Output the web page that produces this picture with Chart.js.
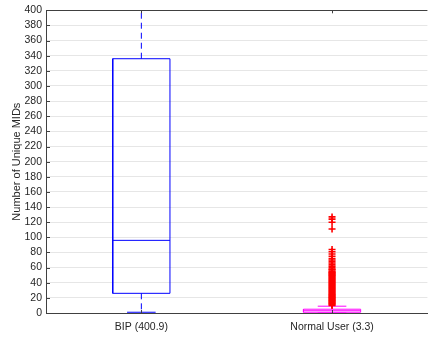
<!DOCTYPE html>
<html>
<head>
<meta charset="utf-8">
<script src="https://cdn.jsdelivr.net/npm/chart.js@4/dist/chart.umd.min.js"></script>
<style>
html, body { margin: 0; padding: 0; overflow: hidden; background: #fff; }
</style>
</head>
<body>
<canvas id="c" width="433" height="337"></canvas>
<script>
const groups = ['BIP (400.9)', 'Normal User (3.3)'];
const whiskerLow = [1, 0];
const q1 = [26, 1];
const median = [96, 3];
const q3 = [336, 5];
const whiskerHigh = [780, 9];
const outliersNormal = [127, 124, 120, 111, 84, 81, 78, 75, 72, 70, 68, 66, 64, 62, 60, 58, 57, 55, 54, 53, 52, 51, 50,
    49, 48, 47, 46, 45, 44, 43, 42, 41, 40, 39, 38, 37, 36, 35, 34, 33, 32, 31, 30, 29, 28, 27, 26, 25, 24, 23, 22, 21,
    20, 19, 18, 17, 16, 15, 14, 13, 12, 11, 10];
const yTicks = [0, 20, 40, 60, 80, 100, 120, 140, 160, 180, 200, 220, 240, 260, 280, 300, 320, 340, 360, 380, 400];

const boxColors = ['#0000ff', '#ff00ff'];
const FONT = "'Liberation Sans', Arial, sans-serif";

function line(points, color, dash) {
    return {
        type: 'scatter', data: points, showLine: true, borderColor: color, backgroundColor: color,
        borderWidth: 1, borderDash: dash || [], pointRadius: 0, pointHoverRadius: 0, tension: 0, fill: false
    };
}

const datasets = [];
groups.forEach((g, i) => {
    const p = i + 1, w = 0.15, cw = 0.075, c = boxColors[i];
    datasets.push(line([{ x: p, y: q3[i] }, { x: p, y: whiskerHigh[i] }], c, [6, 4]));
    datasets.push(line([{ x: p, y: q1[i] }, { x: p, y: whiskerLow[i] }], c, [6, 4]));
    datasets.push(line([{ x: p - cw, y: whiskerHigh[i] }, { x: p + cw, y: whiskerHigh[i] }], c));
    datasets.push(line([{ x: p - cw, y: whiskerLow[i] }, { x: p + cw, y: whiskerLow[i] }], c));
    datasets.push(line([{ x: p - w, y: q1[i] }, { x: p + w, y: q1[i] }, { x: p + w, y: q3[i] },
        { x: p - w, y: q3[i] }, { x: p - w, y: q1[i] }], c));
    datasets.push(line([{ x: p - w, y: median[i] }, { x: p + w, y: median[i] }], c));
});
datasets.unshift({
    type: 'scatter',
    data: outliersNormal.map(v => ({ x: 2, y: v })),
    pointStyle: 'cross', pointRadius: 3.5, borderColor: '#ff0000', borderWidth: 1.6, backgroundColor: '#ff0000'
});

// ticks hacia adentro y borde superior, estilo matlab
const innerTicks = {
    id: 'innerTicks',
    afterDraw(chart) {
        const { ctx, chartArea: a, scales: { x, y } } = chart;
        ctx.save();
        ctx.strokeStyle = '#404040';
        ctx.lineWidth = 1;
        ctx.beginPath();
        y.ticks.forEach(t => {
            const py = Math.round(y.getPixelForValue(t.value)) + 0.5;
            ctx.moveTo(a.left, py); ctx.lineTo(a.left + 4, py);
        });
        x.ticks.forEach(t => {
            const px = Math.round(x.getPixelForValue(t.value)) + 0.5;
            ctx.moveTo(px, a.bottom); ctx.lineTo(px, a.bottom - 3);
            ctx.moveTo(px, a.top); ctx.lineTo(px, a.top + 3);
        });
        ctx.moveTo(a.left, Math.round(a.top) + 0.5); ctx.lineTo(a.right, Math.round(a.top) + 0.5);
        ctx.stroke();
        ctx.restore();
    }
};

new Chart(document.getElementById('c'), {
    type: 'scatter',
    data: { datasets },
    options: {
        responsive: false,
        animation: false,
        layout: { padding: { top: 9, left: 0, right: 0, bottom: 0 } },
        plugins: { legend: { display: false }, tooltip: { enabled: false } },
        scales: {
            x: {
                type: 'linear', min: 0.5, max: 2.5,
                afterBuildTicks: s => { s.ticks = groups.map((g, i) => ({ value: i + 1 })); },
                afterFit: s => { s.height = 24; },
                ticks: {
                    autoSkip: false, maxRotation: 0, padding: 8, color: '#262626',
                    font: { family: FONT, size: 10.5 },
                    callback: v => groups[v - 1]
                },
                grid: { display: false, drawTicks: false },
                border: { color: '#404040' }
            },
            y: {
                min: 0, max: 400,
                afterBuildTicks: s => { s.ticks = yTicks.map(v => ({ value: v })); },
                afterFit: s => { s.width = 46; },
                ticks: { autoSkip: false, padding: 4, color: '#262626', font: { family: FONT, size: 10.5 } },
                grid: { color: '#e6e6e6', drawTicks: false },
                border: { color: '#404040' },
                title: {
                    display: true, text: 'Number of Unique MIDs', color: '#262626',
                    font: { family: FONT, size: 11 }, padding: { top: 10, bottom: 0 }
                }
            }
        }
    },
    plugins: [innerTicks]
});
</script>
</body>
</html>
